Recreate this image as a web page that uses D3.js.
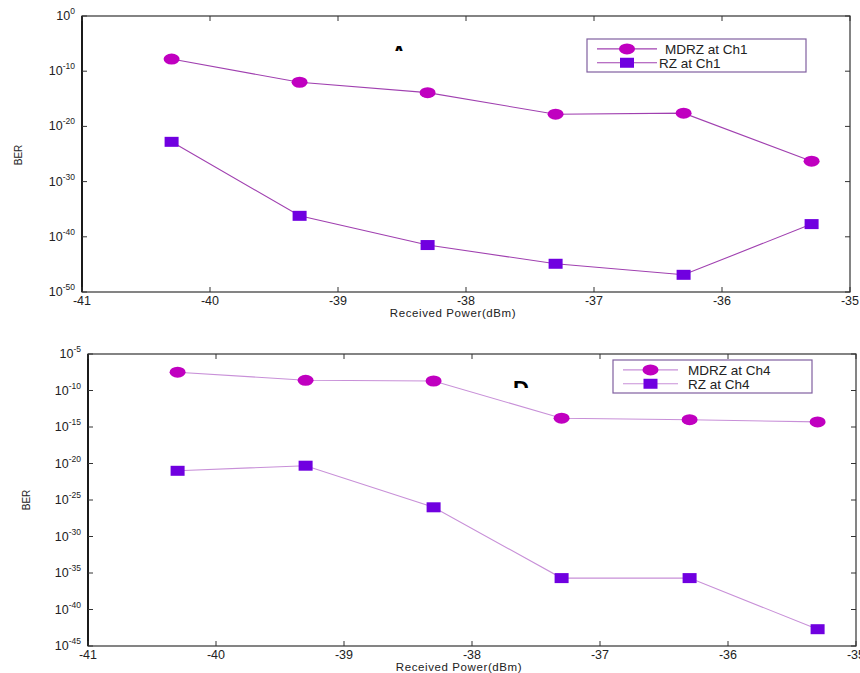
<!DOCTYPE html>
<html><head><meta charset="utf-8">
<script src="https://cdn.jsdelivr.net/npm/d3@7"></script>
<style>body{margin:0;background:#fff}svg{display:block}text{font-family:"Liberation Sans",Arial,sans-serif}</style>
</head><body>
<svg id="c" width="860" height="673"></svg>
<script>
const xValues = [-40.3, -39.3, -38.3, -37.3, -36.3, -35.3];
const xTicks = [-41, -40, -39, -38, -37, -36, -35];
// Panel A (Ch1)
const mdrzCh1 = [1.6e-8, 1e-12, 1.3e-14, 1.6e-18, 2.5e-18, 5e-27];
const rzCh1 = [1.6e-23, 6.3e-37, 3.2e-42, 1.3e-45, 1.3e-47, 2e-38];
const yTicksA = [0, -10, -20, -30, -40, -50];
// Panel B (Ch4)
const mdrzCh4 = [3.2e-8, 2.5e-9, 2e-9, 1.6e-14, 1e-14, 5e-15];
const rzCh4 = [1e-21, 5e-21, 1e-26, 2e-36, 2e-36, 2e-43];
const yTicksB = [-5, -10, -15, -20, -25, -30, -35, -40, -45];
const seriesNamesA = ["MDRZ at Ch1", "RZ at Ch1"];
const seriesNamesB = ["MDRZ at Ch4", "RZ at Ch4"];

const svg = d3.select("#c");

function panel(cfg) {
  const g = svg.append("g");
  const x = d3.scaleLinear().domain([-41, -35]).range([cfg.left, cfg.right]);
  const y = d3.scaleLog().domain([Math.pow(10, cfg.yMin), Math.pow(10, cfg.yMax)]).range([cfg.bottom, cfg.top]);
  g.append("rect").attr("x", cfg.left).attr("y", cfg.top).attr("width", cfg.right - cfg.left).attr("height", cfg.bottom - cfg.top)
    .attr("fill", "none").attr("stroke", "#333").attr("stroke-width", 1.2);
  g.append("line").attr("x1", cfg.left).attr("x2", cfg.left).attr("y1", cfg.top).attr("y2", cfg.bottom).attr("stroke", "#000").attr("stroke-width", 1.6);
  xTicks.forEach(t => {
    const px = x(t);
    g.append("line").attr("x1", px).attr("x2", px).attr("y1", cfg.bottom).attr("y2", cfg.bottom - 5).attr("stroke", "#333");
    g.append("line").attr("x1", px).attr("x2", px).attr("y1", cfg.top).attr("y2", cfg.top + 5).attr("stroke", "#333");
    g.append("text").attr("x", px).attr("y", cfg.bottom + 13).attr("text-anchor", "middle").attr("font-size", 12.5).attr("fill", "#222").text(t);
  });
  cfg.yTicks.forEach(e => {
    const py = y(Math.pow(10, e));
    g.append("line").attr("x1", cfg.left).attr("x2", cfg.left + 5).attr("y1", py).attr("y2", py).attr("stroke", "#333");
    g.append("line").attr("x1", cfg.right).attr("x2", cfg.right - 5).attr("y1", py).attr("y2", py).attr("stroke", "#333");
    const t = g.append("text").attr("x", cfg.left - 7).attr("y", py + 4).attr("text-anchor", "end").attr("font-size", 12.5).attr("fill", "#222");
    t.append("tspan").text("10");
    t.append("tspan").attr("dy", -6).attr("font-size", 8.5).text(e);
  });
  g.append("text").attr("transform", `translate(${cfg.yLabelX},${cfg.yLabelY}) rotate(-90)`)
    .attr("text-anchor", "middle").attr("font-size", 10).attr("fill", "#222").text("BER");
  g.append("text").attr("x", (cfg.left + cfg.right) / 2 - 13).attr("y", cfg.bottom + 25).attr("text-anchor", "middle")
    .attr("font-size", 11.5).attr("fill", "#222").attr("letter-spacing", 0.6).text("Received Power(dBm)");
  const clipId = "clip" + cfg.id;
  svg.append("clipPath").attr("id", clipId).append("rect").attr("x", cfg.letterX - 20).attr("y", cfg.letterY - 30).attr("width", 40).attr("height", cfg.letterClip);
  g.append("text").attr("clip-path", `url(#${clipId})`).attr("x", cfg.letterX).attr("y", cfg.letterY).attr("text-anchor", "middle")
    .attr("font-size", 22).attr("font-weight", "bold").attr("fill", "#000").text(cfg.letter);
  const line = d3.line().x((d, i) => x(xValues[i])).y(d => y(d));
  [cfg.s1, cfg.s2].forEach(s => {
    g.append("path").attr("d", line(s)).attr("fill", "none").attr("stroke", cfg.lineColor).attr("stroke-width", 1.1);
  });
  cfg.s1.forEach((d, i) => {
    g.append("ellipse").attr("cx", x(xValues[i])).attr("cy", y(d)).attr("rx", 8).attr("ry", 5.5).attr("fill", "#c000c0");
  });
  cfg.s2.forEach((d, i) => {
    g.append("rect").attr("x", x(xValues[i]) - 7).attr("y", y(d) - 5).attr("width", 14).attr("height", 10).attr("fill", "#7000e0");
  });
  const L = cfg.legend;
  g.append("rect").attr("x", L.x).attr("y", L.y).attr("width", L.w).attr("height", L.h).attr("fill", "#fff").attr("stroke", "#8060a0").attr("stroke-width", 1.2);
  const rows = [L.y + L.h * 0.3, L.y + L.h * 0.72];
  rows.forEach((ry, k) => {
    g.append("line").attr("x1", L.x + 10).attr("x2", L.x + L.lineW).attr("y1", ry).attr("y2", ry).attr("stroke", cfg.lineColor).attr("stroke-width", 1.1);
    const cx = L.x + 10 + (L.lineW - 10) / 2;
    if (k === 0) g.append("ellipse").attr("cx", cx).attr("cy", ry).attr("rx", 8).attr("ry", 5.5).attr("fill", "#c000c0");
    else g.append("rect").attr("x", cx - 7).attr("y", ry - 5).attr("width", 14).attr("height", 10).attr("fill", "#7000e0");
    g.append("text").attr("x", L.x + L.textX[k]).attr("y", ry + 5).attr("font-size", 13.5).attr("fill", "#222").text(cfg.names[k]);
  });
}

panel({id: "A", left: 82, right: 850, top: 16, bottom: 292, yMin: -50, yMax: 0, yTicks: yTicksA,
  s1: mdrzCh1, s2: rzCh1, names: seriesNamesA, lineColor: "#a040b0", yLabelX: 22, yLabelY: 155,
  letter: "A", letterX: 399, letterY: 61, letterClip: 20,
  legend: {x: 587, y: 39, w: 219, h: 33, lineW: 70, textX: [78, 72]}});
panel({id: "B", left: 88, right: 856, top: 354, bottom: 646, yMin: -45, yMax: -5, yTicks: yTicksB,
  s1: mdrzCh4, s2: rzCh4, names: seriesNamesB, lineColor: "#c890d8", yLabelX: 30, yLabelY: 500,
  letter: "D", letterX: 521, letterY: 396, letterClip: 22,
  legend: {x: 613, y: 360, w: 199, h: 33, lineW: 65, textX: [75, 75]}});
</script>
</body></html>
